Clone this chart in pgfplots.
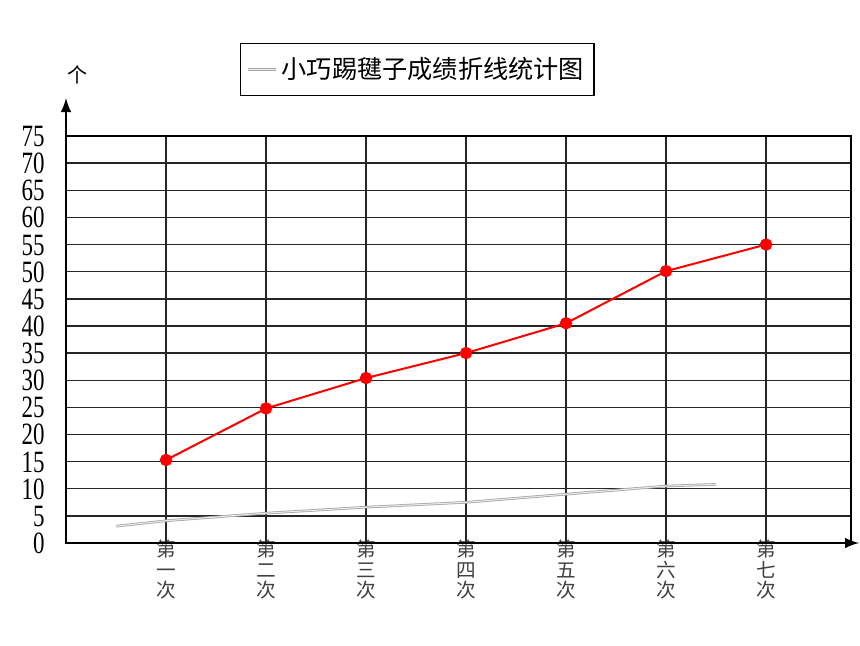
\documentclass[border=0pt]{standalone}
\usepackage{fontspec}
\usepackage{pgfplots}
\pgfplotsset{compat=1.18}
\setmainfont{Liberation Serif}
\newfontfamily\cjk{Noto Sans CJK SC}
\newfontfamily\ticks[FakeStretch=0.74]{Liberation Serif}
\begin{document}
\begin{tikzpicture}
\path[use as bounding box] (-33pt,-51pt) rectangle (397pt,271.5pt);
\begin{axis}[
  at={(0,0)}, anchor=origin,
  scale only axis,
  width=392.5pt, height=203.5pt,
  xmin=0, xmax=7.85, ymin=0, ymax=75,
  clip=false,
  axis line style={black, line width=0.7pt},
  xtick={1,2,3,4,5,6,7},
  xticklabels={{第\\一\\次},{第\\二\\次},{第\\三\\次},{第\\四\\次},{第\\五\\次},{第\\六\\次},{第\\七\\次}},
  xticklabel style={align=center, font=\cjk\fontsize{9.8}{10.2}\selectfont, text=black!75, inner sep=0pt, anchor=north, yshift=1.5pt},
  ytick={0,5,...,75},
  yticklabels={0,5,10,15,20,25,30,35,40,45,50,55,60,65,70,75},
  yticklabel style={font=\ticks\fontsize{15.5}{15.5}\selectfont, anchor=east, inner sep=0pt, text height=10.5pt, text depth=0pt, xshift=-10.5pt},
  major tick length=0pt,
  grid=major,
  grid style={black!85, line width=0.7pt},
  legend style={at={(0.2217,1.2285)}, anchor=north west, draw=black, line width=0.6pt, font=\cjk\fontsize{12.6}{13}\selectfont, inner xsep=3pt, inner ysep=5pt},
  legend cell align=left,
  legend image code/.code={\draw[#1] (0cm,0cm) -- (0.5cm,0cm);},
]
\addplot[draw=gray!70, line width=0.4pt, double=gray!15, double distance=0.5pt] coordinates {
  (0.5,3.1) (1,4.1) (2,5.5) (3,6.6) (4,7.5) (5,9.0) (6,10.5) (6.5,10.8)
};
\addlegendentry{小巧踢毽子成绩折线统计图}
\addplot[red, line width=1pt, mark=*, mark size=2.6pt, mark options={fill=red, draw=red}, forget plot] coordinates {
  (1,15.3) (2,24.8) (3,30.4) (4,35.0) (5,40.5) (6,50.1) (7,55.0)
};
\draw[-latex, line width=1.4pt] (axis cs:0,0) -- (axis cs:0,82);
\draw[-latex, line width=1.4pt] (axis cs:0,0) -- (axis cs:7.93,0);
\node[font=\cjk\fontsize{10}{10}\selectfont] at (axis cs:0.11,86.2) {个};
\end{axis}
\end{tikzpicture}
\end{document}
